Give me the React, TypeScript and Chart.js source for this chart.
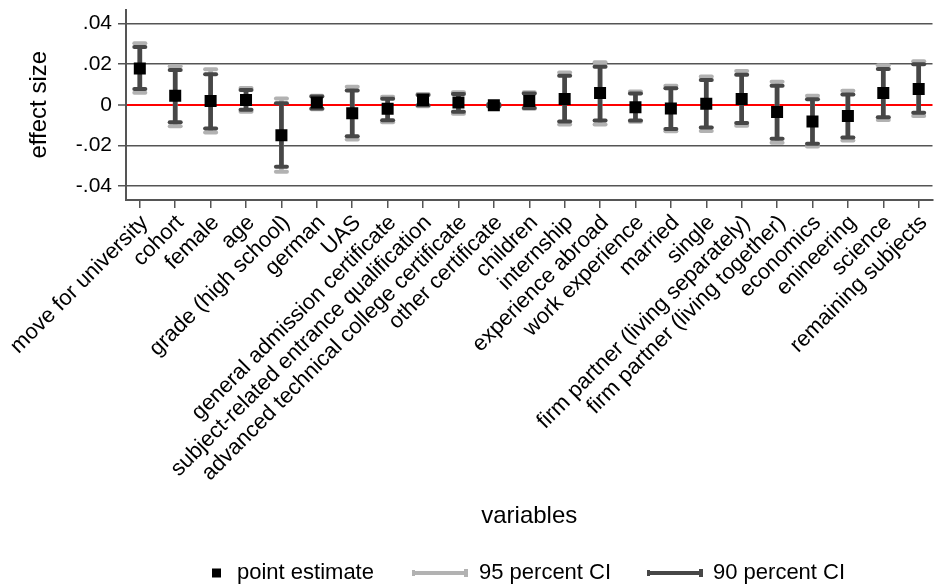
import { useEffect, useRef } from 'react';
import { Chart, registerables } from 'chart.js';

Chart.register(...registerables);

const labels = [
  'move for university', 'cohort', 'female', 'age', 'grade (high school)', 'german', 'UAS',
  'general admission certificate', 'subject-related entrance qualification',
  'advanced technical college certificate', 'other certificate', 'children', 'internship',
  'experience abroad', 'work experience', 'married', 'single',
  'firm partner (living separately)', 'firm partner (living together)', 'economics',
  'enineering', 'science', 'remaining subjects',
];

const estimate = [
  0.0179, 0.0044, 0.0019, 0.0023, -0.0150, 0.0011, -0.0042, -0.0020, 0.0023, 0.0011, -0.0003,
  0.0019, 0.0028, 0.0058, -0.0012, -0.0019, 0.0005, 0.0028, -0.0036, -0.0083, -0.0055, 0.0058, 0.0078,
];
const ci90Low = [
  0.0078, -0.0086, -0.0117, -0.0025, -0.0306, -0.0019, -0.0156, -0.0076, -0.0003, -0.0034, -0.0008,
  -0.0016, -0.0083, -0.0078, -0.0078, -0.0120, -0.0112, -0.0090, -0.0168, -0.0192, -0.0162, -0.0062, -0.0039,
];
const ci90High = [
  0.0285, 0.0171, 0.0151, 0.0073, 0.0008, 0.0041, 0.0070, 0.0030, 0.0048, 0.0053, 0.0002,
  0.0055, 0.0143, 0.0187, 0.0055, 0.0081, 0.0122, 0.0148, 0.0094, 0.0027, 0.0051, 0.0176, 0.0200,
];
const ci95Low = [
  0.0059, -0.0106, -0.0137, -0.0034, -0.0330, -0.0022, -0.0171, -0.0086, -0.0008, -0.0044, -0.0010,
  -0.0020, -0.0098, -0.0098, -0.0084, -0.0131, -0.0129, -0.0104, -0.0187, -0.0206, -0.0176, -0.0075, -0.0055,
];
const ci95High = [
  0.0304, 0.0190, 0.0175, 0.0083, 0.0031, 0.0044, 0.0089, 0.0039, 0.0053, 0.0062, 0.0005,
  0.0062, 0.0159, 0.0210, 0.0065, 0.0094, 0.0140, 0.0167, 0.0114, 0.0044, 0.0069, 0.0195, 0.0215,
];

const yTickValues = [-0.04, -0.02, 0, 0.02, 0.04];
const yTickLabels = ['-.04', '-.02', '0', '.02', '.04'];
const legendLabels = ['point estimate', '95 percent CI', '90 percent CI'];

const FONT = '"Liberation Sans", Arial, Helvetica, sans-serif';
const LIGHT = '#b2b2b2';
const DARK = '#474747';
const AXIS = '#555555';

const roundCaps = {
  id: 'roundCaps',
  beforeDatasetsDraw(chart: any) {
    chart.ctx.save();
    chart.ctx.lineCap = 'round';
  },
  afterDatasetsDraw(chart: any) {
    chart.ctx.restore();
  },
};

function legendLine(ctx: CanvasRenderingContext2D, x0: number, x1: number, y: number, color: string) {
  ctx.fillStyle = color;
  ctx.fillRect(x0, y - 2, x1 - x0, 4);
  ctx.fillRect(x1 - 4, y - 4, 4, 8);
  ctx.fillRect(x0, y - 3, 3, 6);
}

const bottomLegend = {
  id: 'bottomLegend',
  afterDraw(chart: any) {
    const ctx: CanvasRenderingContext2D = chart.ctx;
    const y = 573;
    ctx.save();
    ctx.font = `22px ${FONT}`;
    ctx.textBaseline = 'middle';
    ctx.textAlign = 'left';
    ctx.fillStyle = '#000';
    ctx.fillRect(212, y - 4.5, 9, 9);
    ctx.fillText(legendLabels[0], 237, y);
    legendLine(ctx, 412, 468, y, LIGHT);
    ctx.fillStyle = '#000';
    ctx.fillText(legendLabels[1], 479, y);
    legendLine(ctx, 647, 703, y, DARK);
    ctx.fillStyle = '#000';
    ctx.fillText(legendLabels[2], 713, y);
    ctx.restore();
  },
};

function capPoints(lo: number[], hi: number[]) {
  const pts: { x: number; y: number }[] = [];
  lo.forEach((v, i) => {
    pts.push({ x: i, y: v });
    pts.push({ x: i, y: hi[i] });
  });
  return pts;
}

export default function App() {
  const ref = useRef<HTMLCanvasElement>(null);

  useEffect(() => {
    Chart.defaults.font.family = FONT;
    const chart = new Chart(ref.current as HTMLCanvasElement, {
      type: 'bar',
      data: {
        datasets: [
          {
            type: 'scatter',
            label: legendLabels[0],
            data: estimate.map((v, i) => ({ x: i, y: v })),
            pointStyle: 'rect',
            pointRadius: 8.5,
            backgroundColor: '#000',
            borderWidth: 0,
            order: 0,
          } as any,
          {
            type: 'scatter',
            label: 'cap90',
            data: capPoints(ci90Low, ci90High),
            pointStyle: 'line',
            pointRadius: 5.5,
            borderWidth: 4,
            borderColor: DARK,
            backgroundColor: DARK,
            order: 1,
          } as any,
          {
            type: 'bar',
            label: legendLabels[2],
            data: ci90Low.map((v, i) => ({ x: i, y: [v, ci90High[i]] })),
            backgroundColor: DARK,
            barThickness: 4,
            grouped: false,
            order: 2,
          } as any,
          {
            type: 'scatter',
            label: 'cap95',
            data: capPoints(ci95Low, ci95High),
            pointStyle: 'line',
            pointRadius: 5.5,
            borderWidth: 4,
            borderColor: LIGHT,
            backgroundColor: LIGHT,
            order: 3,
          } as any,
          {
            type: 'bar',
            label: legendLabels[1],
            data: ci95Low.map((v, i) => ({ x: i, y: [v, ci95High[i]] })),
            backgroundColor: LIGHT,
            barThickness: 4,
            grouped: false,
            order: 4,
          } as any,
        ],
      },
      options: {
        responsive: false,
        animation: false,
        events: [],
        layout: { padding: { top: 0, left: 0, right: 0, bottom: 55 } },
        plugins: { legend: { display: false }, tooltip: { enabled: false } },
        scales: {
          x: {
            type: 'linear',
            min: -0.39,
            max: 22.39,
            offset: false,
            afterBuildTicks: (s: any) => {
              s.ticks = labels.map((_, i) => ({ value: i }));
            },
            afterFit: (s: any) => {
              s.height = 331;
              s.paddingLeft = 0;
              s.paddingRight = 0;
            },
            ticks: {
              autoSkip: false,
              minRotation: 45,
              maxRotation: 45,
              padding: 2,
              labelOffset: 5,
              color: '#000',
              font: { size: 22 },
              callback: (v: any) => labels[v] ?? '',
            },
            grid: {
              offset: false,
              drawOnChartArea: false,
              drawTicks: true,
              tickLength: 8,
              color: AXIS,
              lineWidth: 1.5,
            },
            border: { display: true, color: AXIS, width: 2 },
            title: {
              display: true,
              text: 'variables',
              color: '#000',
              font: { size: 24 },
              padding: 0,
            },
          } as any,
          y: {
            type: 'linear',
            min: -0.047,
            max: 0.047,
            afterBuildTicks: (s: any) => {
              s.ticks = yTickValues.map((v) => ({ value: v }));
            },
            afterFit: (s: any) => {
              s.width = 126;
              s.paddingTop = 0;
              s.paddingBottom = 0;
            },
            ticks: {
              color: '#000',
              padding: 6,
              font: { size: 21 },
              callback: (_v: any, i: number) => yTickLabels[i],
            },
            grid: {
              color: (c: any) => (c.tick && c.tick.value === 0 ? '#ff0000' : AXIS),
              lineWidth: (c: any) => (c.tick && c.tick.value === 0 ? 2 : 1.5),
              tickLength: 8,
              tickColor: AXIS,
              tickWidth: 1.5,
            },
            border: { display: true, color: AXIS, width: 2 },
            title: {
              display: true,
              text: 'effect size',
              color: '#000',
              font: { size: 24 },
              padding: { top: 25, bottom: 0 },
            },
          } as any,
        },
      },
      plugins: [roundCaps, bottomLegend],
    });
    return () => chart.destroy();
  }, []);

  return (
    <div style={{ position: 'absolute', left: 0, top: 0, width: 942, height: 586, background: '#fff' }}>
      <canvas ref={ref} width={942} height={586} style={{ display: 'block' }} />
    </div>
  );
}
